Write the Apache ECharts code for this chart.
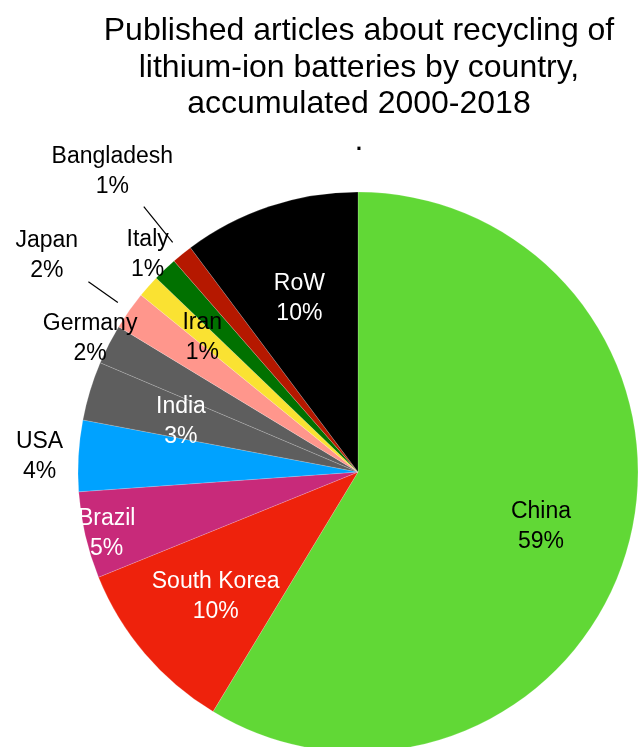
<!DOCTYPE html>
<html>
<head>
<meta charset="utf-8">
<script src="https://cdn.jsdelivr.net/npm/echarts@6/dist/echarts.min.js"></script>
<style>
  html, body { margin: 0; padding: 0; background: #fff; }
  #chart-panel { width: 642px; height: 747px; }
</style>
</head>
<body>
<div id="chart-panel"></div>
<script>
(function () {
    var myChart = echarts.init(document.querySelector('#chart-panel'));

    // share of articles, clockwise from 12 o'clock
    var countries = ['China', 'South Korea', 'Brazil', 'USA', 'India', 'Germany', 'Japan', 'Iran', 'Italy', 'Bangladesh', 'RoW'];
    var shares = [58.6, 10.2, 5.0, 4.1, 3.4, 2.3, 2.2, 1.3, 1.4, 1.2, 10.2];

    var colors = ['#61d836', '#ee220c', '#c82a7a', '#00a2ff', '#5e5e5e', '#5e5e5e', '#ff968c', '#fae232', '#017100', '#b51800', '#000000'];
    var labelColors = ['#000', '#fff', '#fff', '#000', '#fff', '#000', '#000', '#000', '#000', '#000', '#fff'];
    // where each label sits, as distance from the centre
    var labelDist = [190, 187, 258, 319, 185, 301, 381, 208, 305, 391, 186];
    var withLine = { 'Japan': [294, 330], 'Bangladesh': [295, 341] };

    var cx = 358, cy = 472, R = 280;

    var total = shares.reduce(function (a, b) { return a + b; }, 0);
    var midAngles = [];
    var acc = 0;
    shares.forEach(function (v) {
        midAngles.push((acc + v / 2) / total * Math.PI * 2);
        acc += v;
    });

    var pt = function (ang, r) {
        return [cx + r * Math.sin(ang), cy - r * Math.cos(ang)];
    };

    var data = countries.map(function (name, i) {
        return {
            name: name,
            value: shares[i],
            itemStyle: { color: colors[i] },
            label: { color: labelColors[i], position: withLine[name] ? 'outside' : 'inside' },
            labelLine: { show: !!withLine[name] }
        };
    });

    var option = {
        animation: false,
        title: {
            text: 'Published articles about recycling of\nlithium-ion batteries by country,\naccumulated 2000-2018\n.',
            left: 354,
            top: 8,
            textAlign: 'center',
            textStyle: {
                fontFamily: 'Liberation Sans',
                fontWeight: 'normal',
                fontSize: 32,
                lineHeight: 36.5,
                color: '#000'
            }
        },
        series: [{
            type: 'pie',
            center: [cx, cy],
            radius: [0, R],
            startAngle: 90,
            clockwise: true,
            data: data,
            itemStyle: { borderColor: 'rgba(255,255,255,0.35)', borderWidth: 0.5 },
            label: {
                show: true,
                fontFamily: 'Liberation Sans',
                fontSize: 23,
                lineHeight: 30,
                align: 'center',
                formatter: function (p) {
                    return p.name + '\n' + Math.round(p.percent) + '%';
                }
            },
            labelLine: {
                lineStyle: { color: '#000', width: 1.2 }
            },
            labelLayout: function (params) {
                var i = params.dataIndex;
                var p = pt(midAngles[i], labelDist[i]);
                var res = { x: p[0], y: p[1] + 3.5, align: 'center', verticalAlign: 'middle' };
                var ln = withLine[countries[i]];
                if (ln) {
                    var a = pt(midAngles[i], ln[0]);
                    var b = pt(midAngles[i], ln[1]);
                    res.labelLinePoints = [b, a, a];
                }
                return res;
            },
            emphasis: { disabled: true }
        }]
    };

    myChart.setOption(option);
})();
</script>
</body>
</html>
